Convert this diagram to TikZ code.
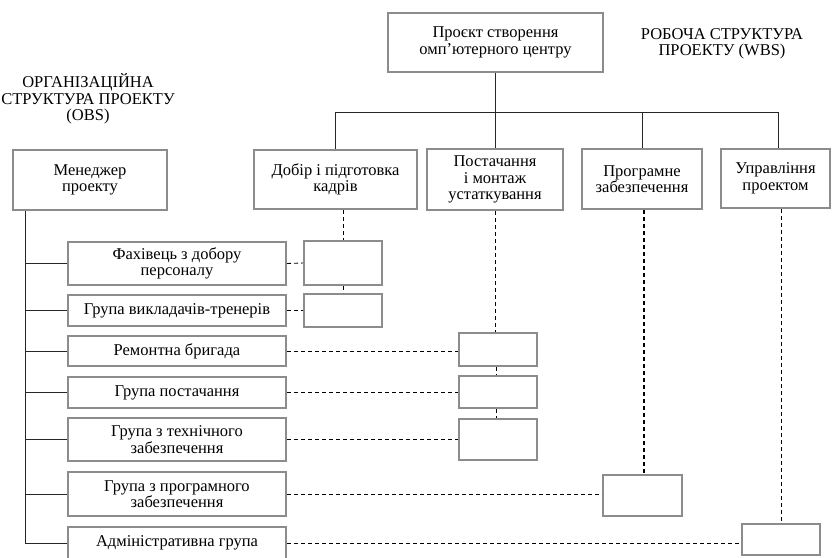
\documentclass[tikz,border=0pt]{standalone}
\usepackage{fontspec}
\setmainfont{Liberation Serif}
\definecolor{boxgray}{HTML}{8C8C8C}
\newcommand\fsz{\fontsize{16.5}{16.5}\selectfont}
\begin{document}
\begin{tikzpicture}[x=1pt,y=-1pt,
  box/.style={draw=boxgray, line width=2pt, fill=white, inner sep=0pt, align=center, font=\fsz},
  tree/.style={draw=black!85, line width=0.8pt},
  dsh/.style={draw=black, line width=0.9pt, dash pattern=on 4pt off 3pt},
  lbl/.style={align=center, font=\fsz, inner sep=0pt}]
\useasboundingbox (0,0) rectangle (832,557);

% labels
\node[lbl] (obs) at (88,99) {ОРГАНІЗАЦІЙНА\\СТРУКТУРА ПРОЕКТУ\\(OBS)};
\node[lbl] (wbs) at (722,44) {РОБОЧА СТРУКТУРА\\ПРОЕКТУ (WBS)};

% WBS boxes
\node[box, minimum width=215pt, minimum height=59pt] (top) at (495.5,42.5) {Проєкт створення\\омп’ютерного центру};
\node[box, minimum width=163pt, minimum height=59pt] (dob) at (335.5,179.5) {Добір і підготовка\\кадрів};
\node[box, minimum width=136pt, minimum height=61pt] (post) at (495,179.5) {Постачання\\і монтаж\\устаткування};
\node[box, minimum width=120pt, minimum height=60pt] (prog) at (642,179) {Програмне\\забезпечення};
\node[box, minimum width=109pt, minimum height=59pt] (upr) at (775.5,178.5) {Управління\\проектом};

% OBS boxes
\node[box, minimum width=154pt, minimum height=60pt] (men) at (90,180) {Менеджер\\проекту};
\node[box, minimum width=218pt, minimum height=43pt] (f1) at (177,263.5) {Фахівець з добору\\персоналу};
\node[box, minimum width=218pt, minimum height=31pt] (f2) at (177,310.5) {Група викладачів-тренерів};
\node[box, minimum width=218pt, minimum height=30pt] (f3) at (177,351) {Ремонтна бригада};
\node[box, minimum width=218pt, minimum height=31pt] (f4) at (177,392.5) {Група постачання};
\node[box, minimum width=218pt, minimum height=43pt] (f5) at (177,439.5) {Група з технічного\\забезпечення};
\node[box, minimum width=218pt, minimum height=44pt] (f6) at (177,494) {Група з програмного\\забезпечення};
\node[box, minimum width=218pt, minimum height=32pt] (f7) at (177,543) {Адміністративна група};

% small WBS work-package boxes
\node[box, minimum width=78pt, minimum height=44pt] (d1) at (343,263) {};
\node[box, minimum width=78pt, minimum height=33pt] (d2) at (343,310.5) {};
\node[box, minimum width=78pt, minimum height=33pt] (p1) at (498,349.5) {};
\node[box, minimum width=78pt, minimum height=32pt] (p2) at (498,392) {};
\node[box, minimum width=78pt, minimum height=41pt] (p3) at (498,439.5) {};
\node[box, minimum width=79pt, minimum height=41pt] (s1) at (642.5,495.5) {};
\node[box, minimum width=78pt, minimum height=31pt] (u1) at (781,539.5) {};

% tree connectors (WBS)
\coordinate (bar) at (0,112);
\draw[tree] (top.south) -- (top.south |- post.north);
\draw[tree] (dob.north) -- (dob.north |- bar) -- ([xshift=2.5pt]upr.north |- bar) -- ([xshift=2.5pt]upr.north);
\draw[tree] (prog.north) -- (prog.north |- bar);

% tree connectors (OBS)
\coordinate (spine) at (25,211);
\draw[tree] (spine) |- (f7.west);
\foreach \n in {f1,f2,f3,f4,f5,f6}{
  \draw[tree] (\n.west) -- (\n.west -| spine);
}

% dashed links
\draw[dsh] (dob.south -| d1.north) -- (d1.north);
\draw[dsh] (d1.south) -- (d2.north);
\draw[dsh] (f1.east) -- (d1.west);
\draw[dsh] (f2.east) -- (f2.east -| d2.west);

\draw[dsh] (post.south) -- (post.south |- p1.north);
\draw[dsh] ([xshift=-2pt]p1.south) -- ([xshift=-2pt]p2.north);
\draw[dsh] ([xshift=-2pt]p2.south) -- ([xshift=-2pt]p3.north);
\draw[dsh] (f3.east) -- (f3.east -| p1.west);
\draw[dsh] (f4.east) -- (f4.east -| p2.west);
\draw[dsh] (f5.east) -- (f5.east -| p3.west);

\draw[dsh, line width=1.4pt] ([xshift=2pt]prog.south) -- ([xshift=2pt]prog.south |- s1.north);
\draw[dsh] (f6.east) -- (f6.east -| s1.west);

\draw[dsh] (upr.south -| u1.north) -- (u1.north);
\draw[dsh] (f7.east) -- (f7.east -| u1.west);
\end{tikzpicture}
\end{document}
